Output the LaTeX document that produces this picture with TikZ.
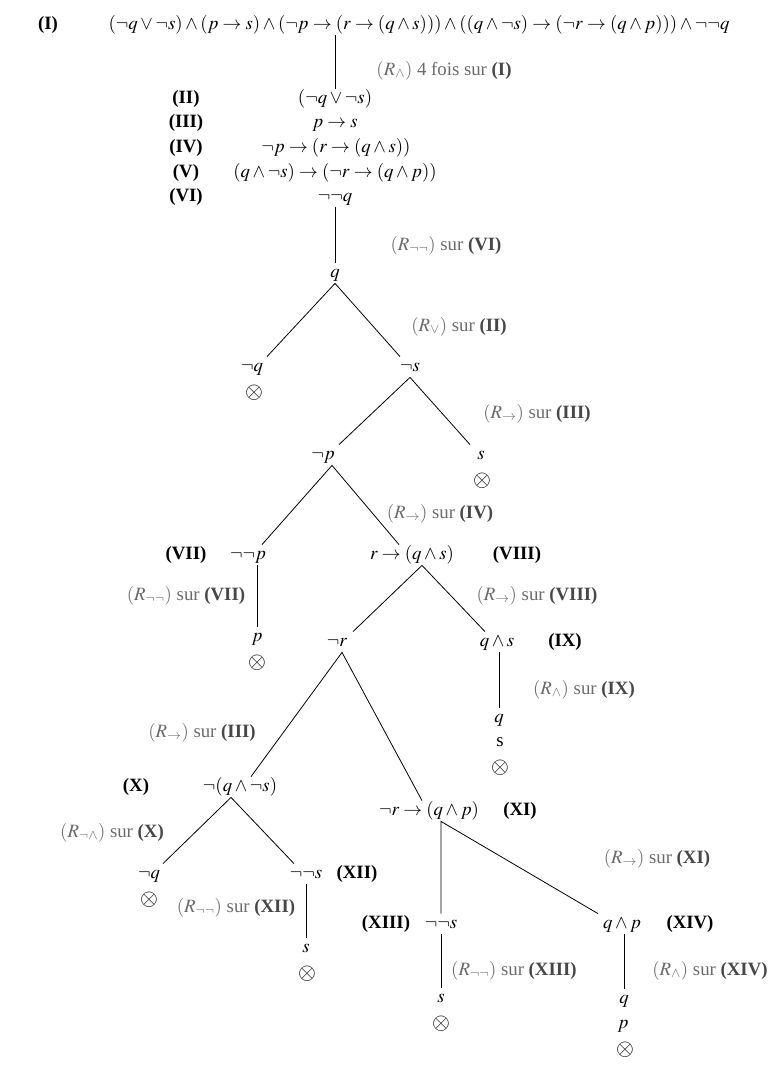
\documentclass[tikz,border=0pt]{standalone}
\usepackage{mathptmx}
\usepackage[no-math]{fontspec}
\setmainfont{Liberation Serif}
\usepackage{amsmath}

\colorlet{rulegray}{black!58}
\colorlet{rulenum}{black!72}
\newcommand\rsur[1]{sur \textcolor{rulenum}{\textbf{#1}}}

\begin{document}
\begin{tikzpicture}[x=1pt, y=-1pt, line width=0.8pt,
    every node/.style={font=\fontsize{18.8}{22}\selectfont, inner sep=2pt, text height=12pt, text depth=4pt},
    num/.style={font=\fontsize{18.8}{22}\selectfont\bfseries},
    rulelab/.style={text=rulegray},
    cross/.style={font=\fontsize{23}{23}\selectfont, inner sep=0pt, text height=12pt, text depth=1pt}]
    \useasboundingbox (0,0) rectangle (783,1079);

    \node[num] (lI) at (48, 25) {(I)};
    \node (fI) at (419, 25) {$(\neg q \vee \neg s) \wedge (p \to s) \wedge (\neg p \to (r \to (q \wedge s))) \wedge ((q \wedge \neg s) \to (\neg r \to (q \wedge p))) \wedge \neg\neg q$};

    \node[num] (lII) at (186, 99) {(II)};
    \node[num] (lIII) at (186, 123) {(III)};
    \node[num] (lIV) at (186, 148) {(IV)};
    \node[num] (lV) at (186, 173) {(V)};
    \node[num] (lVI) at (186, 197) {(VI)};
    \node (fII) at (335, 99) {$(\neg q \vee \neg s)$};
    \node (fIII) at (335, 123) {$p \to s$};
    \node (fIV) at (336, 148) {$\neg p \to (r \to (q \wedge s))$};
    \node (fV) at (335, 173) {$(q \wedge \neg s) \to (\neg r \to (q \wedge p))$};
    \node (fVI) at (335, 197) {$\neg\neg q$};

    \node (q1) at (335, 273) {$q$};
    \node (nq1) at (252, 367) {$\neg q$};
    \node[cross] (x1) at (254, 393) {$\otimes$};
    \node (ns1) at (410, 367) {$\neg s$};
    \node (np) at (323, 455) {$\neg p$};
    \node (s1) at (481, 455) {$s$};
    \node[cross] (x2) at (482, 481) {$\otimes$};

    \node[num] (lVII) at (186, 555) {(VII)};
    \node (nnp) at (248, 555) {$\neg\neg p$};
    \node (rqs) at (412, 555) {$r \to (q \wedge s)$};
    \node[num] (lVIII) at (517, 555) {(VIII)};
    \node (p1) at (257, 637) {$p$};
    \node[cross] (x3) at (257, 663) {$\otimes$};
    \node (nr) at (337, 642) {$\neg r$};
    \node (qs) at (497, 642) {$q \wedge s$};
    \node[num] (lIX) at (565, 642) {(IX)};
    \node (q2) at (499, 718) {$q$};
    \node (s2) at (500, 742) {s};
    \node[cross] (x4) at (500, 768) {$\otimes$};

    \node[num] (lX) at (136, 787) {(X)};
    \node (nqns) at (240, 787) {$\neg(q \wedge \neg s)$};
    \node (nrqp) at (429, 811) {$\neg r \to (q \wedge p)$};
    \node[num] (lXI) at (520, 811) {(XI)};
    \node (nq3) at (149, 874) {$\neg q$};
    \node[cross] (x5) at (149, 900) {$\otimes$};
    \node (nns) at (306, 874) {$\neg\neg s$};
    \node[num] (lXII) at (357, 874) {(XII)};
    \node (s3) at (306, 948) {$s$};
    \node[cross] (x6) at (307, 974) {$\otimes$};

    \node[num] (lXIII) at (386, 924) {(XIII)};
    \node (nns2) at (441, 924) {$\neg\neg s$};
    \node (qp) at (622, 924) {$q \wedge p$};
    \node[num] (lXIV) at (690, 924) {(XIV)};
    \node (s4) at (441, 998) {$s$};
    \node[cross] (x7) at (441, 1024) {$\otimes$};
    \node (q5) at (624, 999) {$q$};
    \node (p5) at (623, 1024) {$p$};
    \node[cross] (x8) at (625, 1050) {$\otimes$};

    \node[rulelab] (rI) at (444, 71) {$(R_{\wedge})$ 4 fois \rsur{(I)}};
    \node[rulelab] (rVI) at (446, 246) {$(R_{\neg\neg})$ \rsur{(VI)}};
    \node[rulelab] (rII) at (459, 327) {$(R_{\vee})$ \rsur{(II)}};
    \node[rulelab] (rIII) at (537, 414) {$(R_{\to})$ \rsur{(III)}};
    \node[rulelab] (rIV) at (440, 514) {$(R_{\to})$ \rsur{(IV)}};
    \node[rulelab] (rVII) at (186, 596) {$(R_{\neg\neg})$ \rsur{(VII)}};
    \node[rulelab] (rVIII) at (537, 596) {$(R_{\to})$ \rsur{(VIII)}};
    \node[rulelab] (rIX) at (584, 690) {$(R_{\wedge})$ \rsur{(IX)}};
    \node[rulelab] (rIIIb) at (202, 733) {$(R_{\to})$ \rsur{(III)}};
    \node[rulelab] (rX) at (112, 833) {$(R_{\neg\wedge})$ \rsur{(X)}};
    \node[rulelab] (rXII) at (236, 908) {$(R_{\neg\neg})$ \rsur{(XII)}};
    \node[rulelab] (rXI) at (657, 859) {$(R_{\to})$ \rsur{(XI)}};
    \node[rulelab] (rXIII) at (514, 971) {$(R_{\neg\neg})$ \rsur{(XIII)}};
    \node[rulelab] (rXIV) at (710, 971) {$(R_{\wedge})$ \rsur{(XIV)}};

    \draw (fI.south -| fII.north) -- (fII.north);
    \draw (fVI.south) -- (q1.north);
    \draw ([xshift=15pt]nq1.north) -- (q1.south) -- ([xshift=-10pt]ns1.north);
    \draw ([xshift=16pt]np.north) -- (ns1.south) -- ([xshift=-11pt]s1.north);
    \draw ([xshift=14pt]nnp.north) -- ([xshift=9pt]np.south) -- ([xshift=-13pt]rqs.north);
    \draw (nnp.south -| p1.north) -- (p1.north);
    \draw ([xshift=16pt]nr.north) -- ([xshift=10pt]rqs.south) -- ([xshift=-12pt]qs.north);
    \draw (qs.south -| q2.north) -- (q2.north);
    \draw ([xshift=11pt]nqns.north) -- ([xshift=5pt]nr.south) -- ([xshift=-7pt]nrqp.north);
    \draw ([xshift=14pt]nq3.north) -- ([xshift=-9pt]nqns.south) -- ([xshift=-12pt]nns.north);
    \draw (nns.south -| s3.north) -- (s3.north);
    \draw (nns2.north) -- ([xshift=12pt]nrqp.south) -- ([xshift=-24pt]qp.north);
    \draw (nns2.south) -- (s4.north);
    \draw (qp.south -| q5.north) -- (q5.north);
\end{tikzpicture}
\end{document}
